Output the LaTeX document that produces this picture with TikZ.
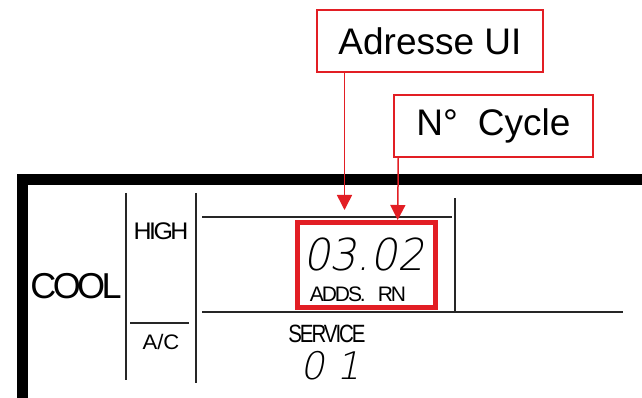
\documentclass[tikz,border=0pt]{standalone}
\usepackage{fontspec}
\usepackage{graphicx}
\setmainfont{Liberation Sans}
\newfontfamily\segfont[FakeSlant=0.2]{DejaVu Sans ExtraLight}
\newfontfamily\lcdfont[LetterSpace=-10]{Liberation Sans}
\usetikzlibrary{arrows.meta}
\definecolor{lblred}{RGB}{226,30,36}
\newcommand{\fsz}[1]{\fontsize{#1}{#1}\selectfont}
\newcommand{\cnd}[2]{\scalebox{#1}[1]{#2}}
\begin{document}
\begin{tikzpicture}[x=1pt,y=-1pt,
  lcd/.style={line width=1.4pt, draw=black!85},
  lbl/.style={draw=lblred, line width=1.5pt, fill=white, inner sep=0pt, font=\fsz{37}},
  callout/.style={draw=lblred, line width=1.5pt, -{Triangle[length=15pt,width=15pt]}},
  txt/.style={inner sep=0pt, anchor=base}
]
\useasboundingbox (0,0) rectangle (642,398);
\begin{scope}
\clip (0,0) rectangle (642,398);
\draw[line width=11pt] (22.5,179.5) rectangle (700,420);
\end{scope}
% display lines
\draw[lcd] (126,193) -- (126,380);
\draw[lcd] (196,193) -- (196,383);
\draw[lcd] (130,323) -- (189,323);
\draw[lcd] (202,217) -- (452,217);
\draw[lcd] (455,198) -- (455,313);
\draw[lcd] (202,312) -- (623,312);
% display texts
\node[txt] (cool) at (76,298) {\lcdfont\fsz{36}COOL};
\node[txt] (high) at (161,239) {\lcdfont\fsz{24}\cnd{1.04}{HIGH}};
\node[txt] (ac) at (161,349) {\fsz{21}\cnd{1.05}{A/C}};
\node[txt] (serv) at (327,342) {\lcdfont\fsz{25}\cnd{0.82}{SERVICE}};
\node[txt] (adds) at (358,301) {\lcdfont\fsz{21}ADDS.\hspace{12pt}RN};
\node[txt] (digits) at (363.5,270) {\segfont\fsz{44}\cnd{0.96}{03.02}};
\node[txt, anchor=base west] (svc) at (300,379) {\segfont\fsz{38}0 1};
% highlighted box
\node[draw=lblred, line width=5pt, minimum width=138pt, minimum height=85pt, inner sep=0pt] (disp) at (366.5,265) {};
% callouts
\node[lbl, minimum width=226pt, minimum height=62pt] (adr) at (430,41) {Adresse UI};
\node[lbl, minimum width=199pt, minimum height=62pt] (cyc) at (493.5,126) {N°\hspace{20pt}Cycle};
\coordinate (t1) at (344.5,210);
\coordinate (t2) at (397.7,220);
\draw[callout] (adr.south -| t1) -- (t1);
\draw[callout] ([xshift=5pt]cyc.south west) -- (t2);
\end{tikzpicture}
\end{document}
